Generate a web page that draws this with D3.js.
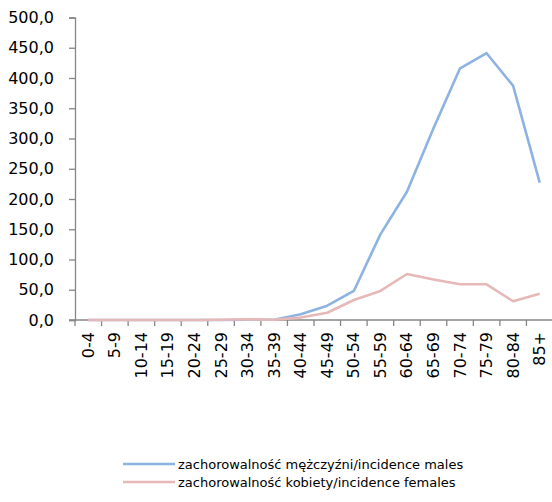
<!DOCTYPE html>
<html>
<head>
<meta charset="utf-8">
<script src="https://cdn.jsdelivr.net/npm/d3@7"></script>
<style>
  html, body { margin: 0; padding: 0; background: #fff; }
  svg { display: block; }
</style>
</head>
<body>
<svg id="chart" width="552" height="502"></svg>
<script>
const categories = ["0-4","5-9","10-14","15-19","20-24","25-29","30-34","35-39","40-44","45-49","50-54","55-59","60-64","65-69","70-74","75-79","80-84","85+"];
const males   = [0, 0, 0, 0, 0, 0, 0.3, 0.5, 9.4, 23.6, 48, 141.6, 212, 317, 416, 441, 387, 227];
const females = [0, 0, 0, 0, 0, 0.3, 1.2, 0.5, 4, 12, 33, 48, 76, 67, 59, 59, 31, 43.5];
const yTicks = [0, 50, 100, 150, 200, 250, 300, 350, 400, 450, 500];
const seriesNames = ["zachorowalność mężczyźni/incidence males", "zachorowalność kobiety/incidence females"];
const seriesColors = ["#8DB3E2", "#E6B9B8"];

const svg = d3.select("#chart");
const axisColor = "#868686";
const font = "'DejaVu Sans', sans-serif";

const x = d3.scaleBand().domain(categories).range([75, 553]).paddingInner(0).paddingOuter(0);
const y = d3.scaleLinear().domain([0, 500]).range([320, 17.5]);

// Y axis
const yAxis = d3.axisLeft(y).tickValues(yTicks).tickSize(6).tickPadding(15)
  .tickFormat(d => d3.format(".1f")(d).replace(".", ","));
const gy = svg.append("g").attr("transform", "translate(75,0)").call(yAxis);
gy.select(".domain").attr("stroke", axisColor).attr("stroke-width", 1.3);
gy.selectAll(".tick line").attr("stroke", axisColor).attr("stroke-width", 1.3);
gy.selectAll(".tick text").attr("fill", "#000").style("font-family", font).style("font-size", "16px");

// X axis (category boundaries ticks)
const gx = svg.append("g").attr("transform", "translate(0,320)");
gx.append("line").attr("x1", 69).attr("x2", 553).attr("y1", 0).attr("y2", 0)
  .attr("stroke", axisColor).attr("stroke-width", 1.3);
const bounds = categories.map(c => x(c)).concat([x(categories[categories.length-1]) + x.bandwidth()]);
gx.selectAll("line.tk").data(bounds).enter().append("line").attr("class", "tk")
  .attr("x1", d => d).attr("x2", d => d).attr("y1", 0).attr("y2", 6)
  .attr("stroke", axisColor).attr("stroke-width", 1.3);
gx.selectAll("text.lbl").data(categories).enter().append("text").attr("class", "lbl")
  .attr("transform", d => `translate(${x(d) + x.bandwidth()/2 + 5.5},12) rotate(-90)`)
  .attr("text-anchor", "end")
  .attr("fill", "#000")
  .style("font-family", font).style("font-size", "16px")
  .text(d => d);

// Lines
const line = d3.line().x((d, i) => x(categories[i]) + x.bandwidth()/2).y(d => y(d));
[males, females].forEach((s, i) => {
  svg.append("path").datum(s).attr("d", line)
    .attr("fill", "none").attr("stroke", seriesColors[i]).attr("stroke-width", 2.6)
    .attr("stroke-linejoin", "round");
});
// redraw females first? keep males on top as in reference near zero: females visible over males
svg.selectAll("path").filter(function(){ return d3.select(this).attr("stroke") === seriesColors[1]; }).raise();

// Legend
const legend = svg.append("g");
seriesNames.forEach((name, i) => {
  const ly = 464 + i * 18;
  legend.append("line").attr("x1", 123).attr("x2", 175).attr("y1", ly).attr("y2", ly)
    .attr("stroke", seriesColors[i]).attr("stroke-width", 2.6);
  legend.append("text").attr("x", 178).attr("y", ly + 4.5)
    .attr("fill", "#000").style("font-family", font).style("font-size", "13px")
    .text(name);
});
</script>
</body>
</html>
